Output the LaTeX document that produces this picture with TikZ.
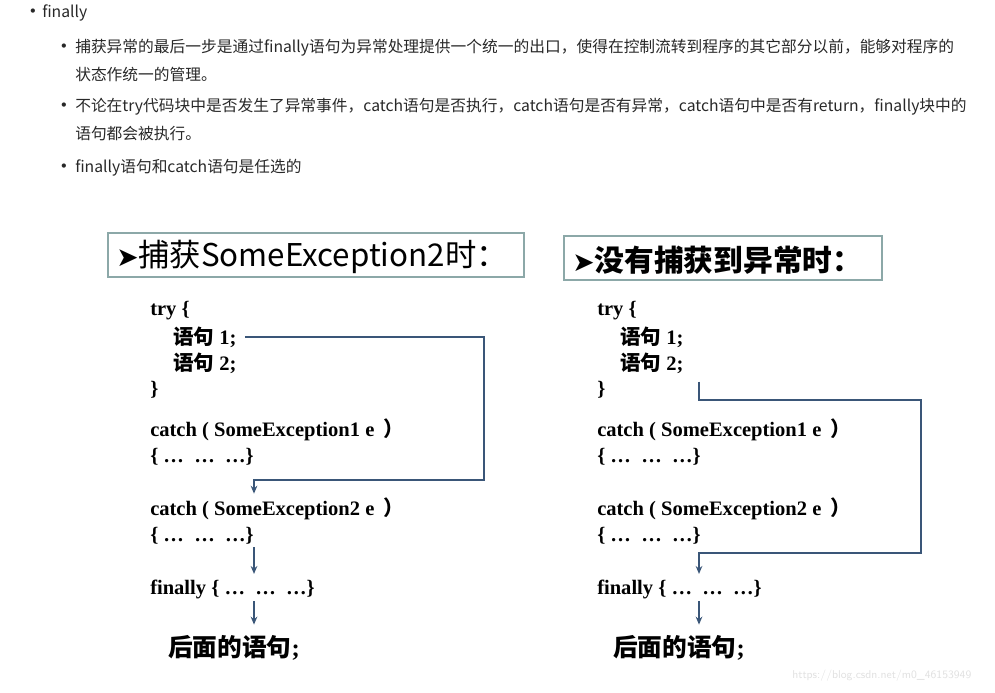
\documentclass[tikz,border=0pt]{standalone}
\usepackage{fontspec}
\setmainfont{Liberation Serif}
\newfontfamily\cjk{Noto Sans CJK SC}
\newfontfamily\sym{DejaVu Sans}
\usetikzlibrary{arrows.meta}
\definecolor{bodytext}{RGB}{40,40,40}
\definecolor{boxline}{RGB}{140,168,168}
\definecolor{flowblue}{RGB}{58,86,120}
\definecolor{marktext}{RGB}{225,225,225}
\newcommand{\zh}[1]{{\cjk\bfseries #1}}
\newcommand{\dotsblock}{\{ \ldots\ \ \ldots\ \ \ldots\}}
\newcommand{\closeparen}{\hspace{7pt}\zh{）}}
\tikzset{
  para/.style={anchor=west, inner sep=0pt, text=bodytext, font=\cjk\fontsize{11.8}{14}\selectfont},
  dot/.style={anchor=center, inner sep=0pt, text=bodytext, font=\sym\fontsize{11}{12}\selectfont},
  titlebox/.style={draw=boxline, line width=0.9pt},
  code/.style={anchor=west, inner sep=0pt, font=\bfseries\fontsize{15.4}{17}\selectfont},
  flow/.style={draw=flowblue, line width=1.3pt},
  flowarrow/.style={flow, -{Stealth[length=6pt,width=5pt]}},
}

\begin{document}
\begin{tikzpicture}[x=0.75pt, y=-0.75pt]
    \useasboundingbox (0,0) rectangle (995,692);

    % Bullet list
    \node[dot] (d0) at (33,13) {•};
    \node[para] (p0) at (42,13) {finally};
    \node[dot] (d1) at (64,48) {•};
    \node[para] (p1) at (75,48) {捕获异常的最后一步是通过finally语句为异常处理提供一个统一的出口，使得在控制流转到程序的其它部分以前，能够对程序的};
    \node[para] (p1b) at (75,74) {状态作统一的管理。};
    \node[dot] (d2) at (64,107) {•};
    \node[para] (p2) at (75,107) {不论在try代码块中是否发生了异常事件，catch语句是否执行，catch语句是否有异常，catch语句中是否有return，finally块中的};
    \node[para] (p2b) at (75,134) {语句都会被执行。};
    \node[dot] (d3) at (64,168) {•};
    \node[para] (p3) at (75,168) {finally语句和catch语句是任选的};

    % Left panel
    \draw[titlebox] (108,233) rectangle (524,277);
    \node[anchor=west, inner sep=0pt] (ltitle) at (116,257)
        {{\sym\fontsize{20}{20}\selectfont ➤}{\cjk\fontsize{23.5}{24}\selectfont 捕获SomeException2时：}};

    \node[code] (ltry) at (150,311) {try \{};
    \node[code] (ls1) at (173,337) {\zh{语句} 1;};
    \node[code] (ls2) at (173,363) {\zh{语句} 2;};
    \node[code] (lend) at (150,390) {\}};
    \node[code] (lc1) at (150,430) {catch ( SomeException1 e\closeparen};
    \node[code] (lb1) at (150,457) {\dotsblock};
    \node[code] (lc2) at (150,509) {catch ( SomeException2 e\closeparen};
    \node[code] (lb2) at (150,536) {\dotsblock};
    \node[code] (lfin) at (150,589) {finally \dotsblock};
    \node[anchor=west, inner sep=0pt, font=\bfseries\fontsize{18.5}{20}\selectfont] (lnext) at (168,648) {\zh{后面的语句};};

    \coordinate (lx) at (254,0);
    \coordinate (lright) at (484,0);
    \draw[flowarrow] ([xshift=6pt]ls1.east) -| (lright |- 0,480) -| ([yshift=3pt]lx |- lc2.north);
    \draw[flowarrow] ([yshift=-2pt]lx |- lb2.south) -- ([yshift=4pt]lx |- lfin.north);
    \draw[flowarrow] ([yshift=-2pt]lx |- lfin.south) -- ([yshift=8pt]lx |- lnext.north);

    % Right panel
    \draw[titlebox] (564,236) rectangle (882,280);
    \node[anchor=west, inner sep=0pt] (rtitle) at (572,260)
        {{\sym\fontsize{20}{20}\selectfont ➤}{\cjk\bfseries\fontsize{22.3}{24}\selectfont 没有捕获到异常时：}};

    \node[code] (rtry) at (597,311) {try \{};
    \node[code] (rs1) at (620,337) {\zh{语句} 1;};
    \node[code] (rs2) at (620,363) {\zh{语句} 2;};
    \node[code] (rend) at (597,390) {\}};
    \node[code] (rc1) at (597,430) {catch ( SomeException1 e\closeparen};
    \node[code] (rb1) at (597,457) {\dotsblock};
    \node[code] (rc2) at (597,509) {catch ( SomeException2 e\closeparen};
    \node[code] (rb2) at (597,536) {\dotsblock};
    \node[code] (rfin) at (597,589) {finally \dotsblock};
    \node[anchor=west, inner sep=0pt, font=\bfseries\fontsize{18.5}{20}\selectfont] (rnext) at (613,648) {\zh{后面的语句};};

    \coordinate (rx) at (699,0);
    \coordinate (rright) at (921,0);
    \draw[flowarrow] ([yshift=-6pt]rx |- rs2.south) |- (rright |- 0,400) |- (rx |- 0,553) -- ([yshift=4pt]rx |- rfin.north);
    \draw[flowarrow] ([yshift=-2pt]rx |- rfin.south) -- ([yshift=8pt]rx |- rnext.north);

    % Watermark
    \node[anchor=west, inner sep=0pt, text=marktext, font=\sffamily\fontsize{8.5}{10}\selectfont] (mark) at (792,676) {https://blog.csdn.net/m0\_46153949};
\end{tikzpicture}
\end{document}
